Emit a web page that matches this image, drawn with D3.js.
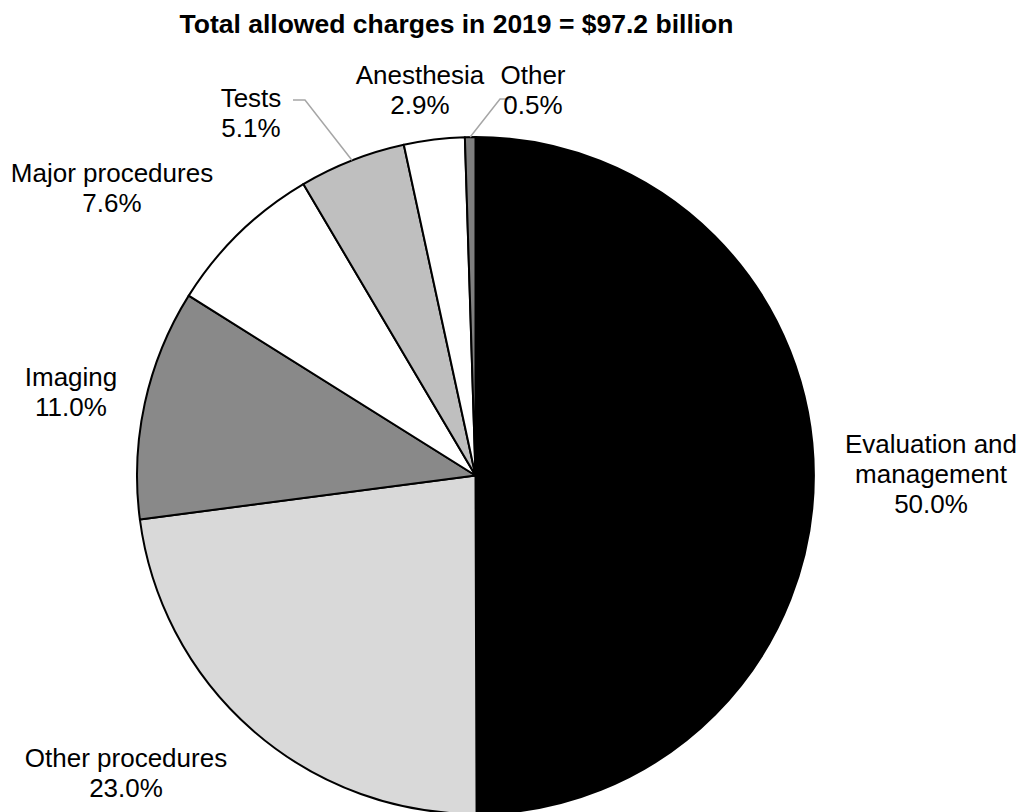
<!DOCTYPE html>
<html>
<head>
<meta charset="utf-8">
<script src="https://cdn.jsdelivr.net/npm/d3@7"></script>
<style>
  html, body { margin: 0; padding: 0; background: #fff; }
  svg { display: block; }
  text { font-family: "Liberation Sans", Arial, sans-serif; fill: #000; }
</style>
</head>
<body>
<svg id="chart" width="1021" height="812"></svg>
<script>
// Share of allowed charges by service category, clockwise from 12 o'clock
const categories = ["Evaluation and management", "Other procedures", "Imaging",
                    "Major procedures", "Tests", "Anesthesia", "Other"];
const shares = [50.0, 23.0, 11.0, 7.6, 5.1, 2.9, 0.5];
const labelLines = [
  ["Evaluation and", "management"],
  ["Other procedures"],
  ["Imaging"],
  ["Major procedures"],
  ["Tests"],
  ["Anesthesia"],
  ["Other"]
];
const titleText = "Total allowed charges in 2019 = $97.2 billion";

// Presentation
const fills = ["#000000", "#d9d9d9", "#898989", "#ffffff", "#bfbfbf", "#ffffff", "#7f7f7f"];
const cx = 475.5, cy = 475.5, radius = 338.5;
const fontSize = 26, lineHeight = 30;

// Label anchors (center x, first baseline y) and optional leader elbows
const labelLayout = [
  { x: 931, y: 453 },
  { x: 126, y: 767 },
  { x: 71,  y: 386 },
  { x: 112, y: 182 },
  { x: 251, y: 107, leader: { elbowX: 305, endX: 293, y: 100 } },
  { x: 420, y: 84 },
  { x: 533, y: 84,  leader: { elbowX: 500, endX: 511, y: 99 } }
];

const svg = d3.select("#chart");

svg.append("text")
  .attr("x", 456.5)
  .attr("y", 33)
  .attr("text-anchor", "middle")
  .style("font-weight", "bold")
  .style("font-size", "26.5px")
  .text(titleText);

const pie = d3.pie().sort(null).value(d => d.value);
const data = categories.map((c, i) => ({ name: c, value: shares[i], i }));
const arcs = pie(data);

const arc = d3.arc().innerRadius(0).outerRadius(radius);

const g = svg.append("g").attr("transform", `translate(${cx},${cy})`);

g.selectAll("path.slice")
  .data(arcs)
  .join("path")
  .attr("class", "slice")
  .attr("d", arc)
  .attr("fill", d => fills[d.data.i])
  .attr("stroke", "#000")
  .attr("stroke-width", 2)
  .attr("stroke-linejoin", "round");

// Leader lines from the slice edge to the label
arcs.forEach(a => {
  const lay = labelLayout[a.data.i];
  if (!lay.leader) return;
  const mid = (a.startAngle + a.endAngle) / 2;
  const ex = cx + radius * Math.sin(mid);
  const ey = cy - radius * Math.cos(mid);
  const L = lay.leader;
  svg.append("polyline")
    .attr("points", `${ex},${ey} ${L.elbowX},${L.y} ${L.endX},${L.y}`)
    .attr("fill", "none")
    .attr("stroke", "#a6a6a6")
    .attr("stroke-width", 1.5);
});

// Category labels with percentage
arcs.forEach(a => {
  const i = a.data.i;
  const lay = labelLayout[i];
  const lines = labelLines[i].concat([d3.format(".1f")(a.data.value) + "%"]);
  const t = svg.append("text")
    .attr("text-anchor", "middle")
    .style("font-size", fontSize + "px");
  lines.forEach((ln, k) => {
    t.append("tspan")
      .attr("x", lay.x)
      .attr("y", lay.y + k * lineHeight)
      .text(ln);
  });
});
</script>
</body>
</html>
